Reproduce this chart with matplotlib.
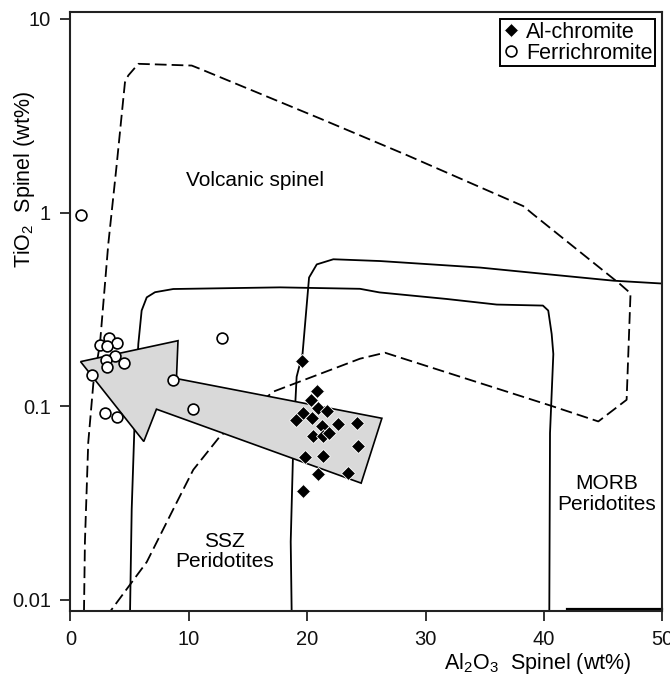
import matplotlib
matplotlib.use("Agg")
import matplotlib.pyplot as plt
from matplotlib.patches import Polygon
from matplotlib.ticker import NullLocator

plt.rcParams['font.family'] = ['Liberation Sans', 'DejaVu Sans']
plt.rcParams['mathtext.fontset'] = 'custom'
plt.rcParams['mathtext.rm'] = 'Liberation Sans'

# Al-chromite (filled diamonds)
al_x = [19.53, 20.84, 20.29, 20.93, 21.64, 19.66, 20.37, 19.05, 22.62, 24.22,
        21.22, 20.46, 21.30, 21.86, 24.31, 19.81, 21.30, 20.93, 23.46, 19.61]
al_y = [0.171, 0.120, 0.108, 0.0977, 0.095, 0.0928, 0.0868, 0.0845, 0.0809, 0.0818,
        0.0792, 0.0705, 0.0705, 0.0727, 0.0621, 0.0547, 0.0556, 0.0445, 0.0453, 0.0366]

# Ferrichromite (open circles)
fe_x = [0.86, 2.50, 3.28, 3.95, 3.06, 3.76, 3.00, 3.06, 4.52, 1.79, 2.91, 3.90, 8.63, 10.37, 12.82]
fe_y = [0.977, 0.206, 0.225, 0.212, 0.205, 0.182, 0.173, 0.160, 0.168, 0.145, 0.092, 0.088,
        0.136, 0.097, 0.225]

# field boundaries
volc_x = [1.14, 1.22, 1.50, 1.93, 2.49, 3.19, 3.90, 4.60, 4.88, 5.73, 10.24, 10.94, 21.07,
          28.4, 38.24, 39.1, 46.4, 47.3, 46.97, 44.58, 40.5, 26.56, 24.45, 17.13, 12.63,
          10.37, 8.68, 6.44, 3.34]
volc_y = [0.0087, 0.020, 0.065, 0.131, 0.21, 0.685, 1.76, 4.7, 5.1, 5.86, 5.74, 5.52, 3.06,
          1.98, 1.08, 0.977, 0.428, 0.383, 0.108, 0.0835, 0.101, 0.189, 0.176, 0.119, 0.070,
          0.047, 0.0294, 0.0157, 0.0087]

ssz_x = [5.03, 5.17, 5.45, 5.73, 6.01, 6.44, 7.14, 8.68, 17.7, 24.45, 26.1, 31.77, 36.0,
         39.9, 40.35, 40.64, 40.78, 40.5, 40.44]
ssz_y = [0.0087, 0.0294, 0.0958, 0.21, 0.312, 0.365, 0.388, 0.403, 0.411, 0.404, 0.387,
         0.358, 0.335, 0.331, 0.312, 0.236, 0.186, 0.0728, 0.0087]

morb_x = [18.68, 18.6, 18.82, 19.1, 19.6, 20.15, 20.8, 22.2, 26.14, 34.6, 40.2, 45.85, 50.0]
morb_y = [0.0087, 0.020, 0.0646, 0.142, 0.187, 0.462, 0.54, 0.574, 0.562, 0.52, 0.481,
          0.445, 0.43]
morb_base_x = [41.9, 50.0]
morb_base_y = [0.0090, 0.0090]

# trend arrow outline
arrow_x = [0.85, 9.08, 8.95, 26.3, 24.55, 7.26, 6.19]
arrow_y = [0.170, 0.218, 0.139, 0.0867, 0.0401, 0.0966, 0.0658]

xticks = [0, 10, 20, 30, 40, 50]
yticks = [0.01, 0.1, 1, 10]
ytick_labels = ['0.01', '0.1', '1', '10']

fig = plt.figure(figsize=(6.7, 6.75), dpi=100)
ax = fig.add_axes([0.1052, 0.0948, 0.8836, 0.888])
ax.set_yscale('log')
ax.set_xlim(0, 50)
ax.set_ylim(0.00877, 10.9)

dash = (0, (6.5, 2.8))
ax.plot(volc_x, volc_y, color='black', lw=1.3, linestyle=dash, zorder=2)
ax.plot(ssz_x, ssz_y, color='black', lw=1.3, zorder=2)
ax.plot(morb_x, morb_y, color='black', lw=1.3, zorder=2)
ax.plot(morb_base_x, morb_base_y, color='black', lw=1.6, zorder=2, clip_on=False)

ax.add_patch(Polygon(list(zip(arrow_x, arrow_y)), closed=True, facecolor='#d9d9d9',
                     edgecolor='black', lw=1.2, zorder=3))

ax.plot(fe_x, fe_y, 'o', ms=7.8, mfc='white', mec='black', mew=1.2, ls='none',
        zorder=4, label='Ferrichromite')
ax.plot(al_x, al_y, 'D', ms=7.3, mfc='black', mec='white', mew=0.6, ls='none',
        zorder=5, label='Al-chromite')

ax.text(15.6, 1.47, 'Volcanic spinel', fontsize=15, ha='center', va='center')
ax.text(13.0, 0.0178, 'SSZ\nPeridotites', fontsize=15, ha='center', va='center',
        linespacing=1.1)
ax.text(45.3, 0.0352, 'MORB\nPeridotites', fontsize=15, ha='center', va='center',
        linespacing=1.1)

ax.set_xticks(xticks)
ax.set_yticks(yticks, labels=ytick_labels)
ax.yaxis.set_minor_locator(NullLocator())
ax.tick_params(direction='out', length=7, width=1.2, labelsize=14.5, colors='#111111')
ax.tick_params(axis='x', pad=7)
ax.tick_params(axis='y', pad=7)
for s in ax.spines.values():
    s.set_linewidth(1.5)
    s.set_color('#222222')

ax.text(-0.078, 0.72, 'TiO$_2$  Spinel (wt%)', transform=ax.transAxes, rotation=90,
        fontsize=15.5, ha='center', va='center')
ax.text(0.79, -0.088, 'Al$_2$O$_3$  Spinel (wt%)', transform=ax.transAxes,
        fontsize=15.5, ha='center', va='center')

h, l = ax.get_legend_handles_labels()
leg = ax.legend(h[::-1], l[::-1], loc='upper right', fontsize=15.5, frameon=True,
                fancybox=False, edgecolor='black', borderpad=0.12, labelspacing=0.0,
                handletextpad=0.3, handlelength=0.8, borderaxespad=0.35, framealpha=1)
leg.get_frame().set_linewidth(1.4)

fig.savefig('out.png', dpi=100)
